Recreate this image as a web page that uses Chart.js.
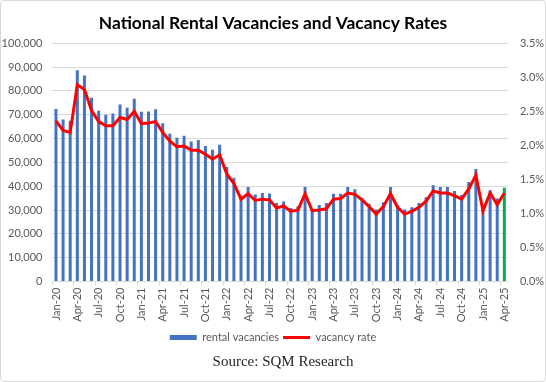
<!DOCTYPE html>
<html>
<head>
<meta charset="utf-8">
<script src="https://cdn.jsdelivr.net/npm/chart.js@4.4.1/dist/chart.umd.min.js"></script>
<style>
    html, body {
        margin: 0;
        padding: 0;
        background: #ffffff;
    }
    #wrap {
        position: relative;
        width: 546px;
        height: 382px;
    }
    #chart {
        position: absolute;
        left: 0;
        top: 0;
    }
    #frame {
        position: absolute;
        inset: 0;
        border: 1px solid #d9d9d9;
        border-radius: 4px;
        pointer-events: none;
    }
    #source {
        position: absolute;
        left: 10px;
        top: 351px;
        width: 546px;
        text-align: center;
        font-family: 'Liberation Serif', serif;
        font-size: 15px;
        line-height: 20px;
        color: #262626;
    }
</style>
</head>
<body>
<div id="wrap">
    <canvas id="chart" width="546" height="382"></canvas>
    <div id="source">Source: SQM Research</div>
    <div id="frame"></div>
</div>
<script>
// Months shown on the category axis
const MONTHS = [
    'Jan-20', 'Feb-20', 'Mar-20', 'Apr-20', 'May-20', 'Jun-20', 'Jul-20', 'Aug-20', 'Sep-20', 'Oct-20', 'Nov-20', 'Dec-20',
    'Jan-21', 'Feb-21', 'Mar-21', 'Apr-21', 'May-21', 'Jun-21', 'Jul-21', 'Aug-21', 'Sep-21', 'Oct-21', 'Nov-21', 'Dec-21',
    'Jan-22', 'Feb-22', 'Mar-22', 'Apr-22', 'May-22', 'Jun-22', 'Jul-22', 'Aug-22', 'Sep-22', 'Oct-22', 'Nov-22', 'Dec-22',
    'Jan-23', 'Feb-23', 'Mar-23', 'Apr-23', 'May-23', 'Jun-23', 'Jul-23', 'Aug-23', 'Sep-23', 'Oct-23', 'Nov-23', 'Dec-23',
    'Jan-24', 'Feb-24', 'Mar-24', 'Apr-24', 'May-24', 'Jun-24', 'Jul-24', 'Aug-24', 'Sep-24', 'Oct-24', 'Nov-24', 'Dec-24',
    'Jan-25', 'Feb-25', 'Mar-25', 'Apr-25',
];

// Number of rental vacancies (left axis)
const RENTAL_VACANCIES = [
    72400, 68000, 67500, 88700, 86500, 77100, 71700, 70000, 70500, 74300, 72900, 76700,
    71300, 71400, 72300, 66400, 62000, 60300, 61200, 58800, 59400, 56900, 55300, 57400,
    48100, 43600, 36000, 39700, 36500, 37100, 36900, 33000, 33600, 30900, 31600, 39700,
    30500, 32100, 33000, 36800, 36800, 39700, 38700, 35200, 32600, 30200, 33300, 39700,
    32100, 30200, 31200, 33000, 35400, 40400, 39700, 39700, 38000, 36300, 41800, 47200,
    31500, 38300, 34800, 39400,
];

// Vacancy rate in percent (right axis)
const VACANCY_RATE = [
    2.36, 2.22, 2.19, 2.89, 2.82, 2.51, 2.35, 2.29, 2.29, 2.41, 2.38, 2.50,
    2.32, 2.33, 2.35, 2.19, 2.06, 1.98, 1.99, 1.93, 1.93, 1.87, 1.80, 1.86,
    1.58, 1.44, 1.21, 1.29, 1.19, 1.21, 1.20, 1.08, 1.11, 1.03, 1.05, 1.29,
    1.04, 1.05, 1.07, 1.21, 1.22, 1.30, 1.28, 1.20, 1.10, 0.99, 1.10, 1.29,
    1.09, 0.99, 1.03, 1.09, 1.18, 1.33, 1.30, 1.30, 1.26, 1.21, 1.36, 1.56,
    1.04, 1.30, 1.13, 1.30,
];

const BAR_BLUE = '#4472C4';
const BAR_GREEN = '#00B050';
const LINE_RED = '#FF0000';
const GRID_GRAY = '#d9d9d9';
const TEXT_GRAY = '#595959';
const FONT_FAMILY = 'Lato, "Open Sans", sans-serif';

function formatThousands(value) {
    return Number(value).toLocaleString('en-US');
}

function buildChart() {
    const canvas = document.getElementById('chart');
    const ctx = canvas.getContext('2d');
    const lastIndex = RENTAL_VACANCIES.length - 1;

    new Chart(ctx, {
        type: 'bar',
        data: {
            labels: MONTHS,
            datasets: [
                {
                    type: 'bar',
                    label: 'rental vacancies',
                    data: RENTAL_VACANCIES,
                    yAxisID: 'y',
                    // the latest month is highlighted in green
                    backgroundColor: (c) => (c.dataIndex === lastIndex ? BAR_GREEN : BAR_BLUE),
                    borderWidth: 0,
                    barPercentage: 0.42,
                    categoryPercentage: 1,
                    pointStyle: 'rect',
                    order: 0,
                },
                {
                    type: 'line',
                    label: 'vacancy rate',
                    data: VACANCY_RATE,
                    yAxisID: 'y1',
                    borderColor: LINE_RED,
                    backgroundColor: LINE_RED,
                    borderWidth: 3,
                    pointRadius: 0,
                    pointStyle: 'line',
                    tension: 0,
                    order: -1,
                },
            ],
        },
        options: {
            responsive: false,
            animation: false,
            devicePixelRatio: 1,
            layout: {
                padding: {top: 0, left: 0, right: 0, bottom: 29},
            },
            plugins: {
                title: {
                    display: true,
                    text: 'National Rental Vacancies and Vacancy Rates',
                    color: '#000000',
                    font: {family: FONT_FAMILY, size: 17.4, weight: 'bold', lineHeight: 1.2},
                    padding: {top: 12.5, bottom: 9.9},
                },
                legend: {
                    position: 'bottom',
                    labels: {
                        usePointStyle: true,
                        pointStyleWidth: 27,
                        boxHeight: 5,
                        padding: 4,
                        color: TEXT_GRAY,
                        font: {family: FONT_FAMILY, size: 11},
                        sort: (a, b) => a.datasetIndex - b.datasetIndex,
                    },
                },
                tooltip: {enabled: false},
            },
            scales: {
                x: {
                    offset: true,
                    afterFit: (scale) => {
                        scale.height = 46.5;
                    },
                    grid: {
                        offset: true,
                        drawOnChartArea: false,
                        drawTicks: true,
                        tickLength: 4,
                        color: (c) => (c.index % 3 === 0 ? GRID_GRAY : 'rgba(0,0,0,0)'),
                    },
                    border: {color: GRID_GRAY},
                    ticks: {
                        autoSkip: false,
                        minRotation: 90,
                        maxRotation: 90,
                        padding: 2,
                        color: TEXT_GRAY,
                        font: {family: FONT_FAMILY, size: 11},
                        callback: (value, index) => (index % 3 === 0 ? MONTHS[index] : ''),
                    },
                },
                y: {
                    position: 'left',
                    min: 0,
                    max: 100000,
                    afterFit: (scale) => {
                        scale.width = 52.4;
                    },
                    grid: {color: GRID_GRAY, drawTicks: false},
                    border: {display: false},
                    ticks: {
                        stepSize: 10000,
                        padding: 10,
                        color: TEXT_GRAY,
                        font: {family: FONT_FAMILY, size: 11},
                        callback: (value) => formatThousands(value),
                    },
                },
                y1: {
                    position: 'right',
                    min: 0,
                    max: 3.5,
                    afterFit: (scale) => {
                        scale.width = 38.1;
                    },
                    grid: {drawOnChartArea: false, drawTicks: false},
                    border: {display: false},
                    ticks: {
                        stepSize: 0.5,
                        padding: 12,
                        color: TEXT_GRAY,
                        font: {family: FONT_FAMILY, size: 11},
                        callback: (value) => `${Number(value).toFixed(1)}%`,
                    },
                },
            },
        },
    });
}

if (document.readyState === 'loading') {
    document.addEventListener('DOMContentLoaded', buildChart);
} else {
    buildChart();
}
</script>
</body>
</html>
